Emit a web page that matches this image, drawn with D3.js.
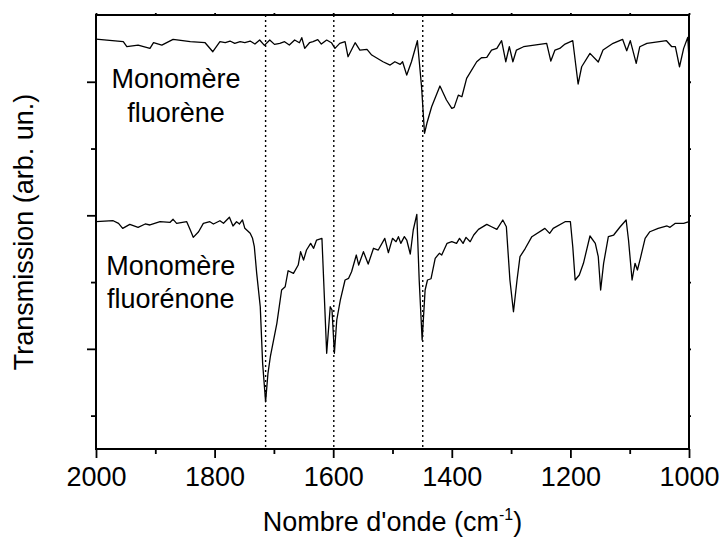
<!DOCTYPE html>
<html>
<head>
<meta charset="utf-8">
<script src="https://cdn.jsdelivr.net/npm/d3@7"></script>
<style>
  html, body { margin: 0; padding: 0; background: #fff; }
  svg { display: block; }
  text { font-family: "Liberation Sans", Arial, sans-serif; fill: #000; }
</style>
</head>
<body>
<svg id="chart" width="721" height="539"></svg>
<script>
// ---------- data ----------
const xTickValues = [2000, 1800, 1600, 1400, 1200, 1000];
const xMinorTicks = [1900, 1700, 1500, 1300, 1100];
const yMajorTicks = [1, 3, 5];
const yMinorTicks = [0, 2, 4];
const markerLines = [1714, 1599, 1449];

// Monomère fluorène spectrum [wavenumber, transmission (arb.)]
const fluoreneWn = [2000,1954,1948,1929,1909,1903,1889,1870,1841,1816,1803,1791,1782,1774,1766,1757,1749,1740,1732,1724,1716,1707,1699,1690,1682,1674,1665,1657,1653,1648,1640,1634,1626,1620,1611,1603,1597,1589,1580,1575,1563,1555,1543,1535,1516,1504,1496,1487,1483,1476,1468,1458,1451,1446,1442,1434,1420,1409,1400,1396,1389,1383,1375,1358,1350,1341,1333,1324,1316,1309,1303,1297,1291,1279,1240,1233,1226,1218,1209,1196,1187,1181,1167,1153,1145,1128,1112,1105,1099,1089,1083,1071,1038,1029,1023,1016,1009,1002,1000];
const fluoreneT  = [5.64,5.60,5.525,5.55,5.50,5.585,5.55,5.636,5.60,5.585,5.45,5.60,5.585,5.61,5.575,5.60,5.585,5.61,5.565,5.625,5.545,5.625,5.56,5.576,5.60,5.55,5.625,5.585,5.66,5.50,5.585,5.60,5.63,5.565,5.625,5.585,5.50,5.575,5.60,5.375,5.585,5.475,5.486,5.40,5.30,5.25,5.30,5.26,5.30,5.10,5.30,5.615,4.926,4.228,4.378,4.626,4.936,4.727,4.602,4.617,4.80,4.776,5.05,5.30,5.36,5.366,5.475,5.50,5.615,5.30,5.525,5.30,5.475,5.525,5.576,5.31,5.475,5.50,5.565,5.615,4.966,5.225,5.426,5.296,5.475,5.576,5.636,5.465,5.615,5.276,5.525,5.576,5.615,5.525,5.525,5.225,5.50,5.666,5.326];

// Monomère fluorénone spectrum [wavenumber, transmission (arb.)]
const fluorenoneWn = [2000,1971,1962,1955,1943,1929,1917,1909,1892,1875,1870,1864,1847,1841,1836,1827,1819,1808,1802,1791,1785,1775,1769,1763,1758,1753,1749,1740,1736,1733,1729,1723,1719,1714,1710,1706,1695,1687,1681,1676,1667,1659,1655,1650,1645,1638,1633,1628,1619,1614,1611,1605,1602,1598,1594,1588,1580,1574,1569,1561,1557,1549,1541,1532,1524,1513,1507,1500,1494,1490,1486,1480,1476,1470,1465,1459,1455,1450,1445,1441,1435,1428,1421,1417,1408,1400,1392,1387,1381,1376,1369,1363,1355,1341,1333,1324,1314,1308,1302,1296,1290,1285,1276,1265,1243,1235,1229,1209,1200,1196,1192,1185,1178,1167,1158,1153,1149,1144,1136,1127,1116,1106,1102,1096,1091,1087,1082,1074,1066,1052,1037,1032,1023,1009,1000];
const fluorenoneT  = [2.904,2.919,2.880,2.805,2.865,2.820,2.870,2.855,2.904,2.895,2.940,2.880,2.904,2.780,2.670,2.754,2.880,2.904,2.870,2.919,2.880,2.970,2.840,2.904,2.870,2.930,2.805,2.730,2.655,2.530,2.131,1.631,0.783,0.208,0.634,0.882,1.382,1.881,1.930,2.170,2.131,2.255,2.455,2.330,2.480,2.580,2.506,2.630,2.655,1.582,0.933,1.631,1.582,0.933,1.432,1.731,2.031,2.056,2.155,2.405,2.255,2.455,2.270,2.506,2.480,2.655,2.440,2.655,2.605,2.680,2.580,2.680,2.630,2.420,2.780,3.015,2.031,1.132,1.881,2.031,2.050,2.356,2.431,2.405,2.580,2.605,2.580,2.655,2.580,2.670,2.605,2.705,2.790,2.865,2.829,2.790,2.930,2.829,2.031,1.556,2.031,2.380,2.506,2.680,2.805,2.730,2.805,2.904,2.904,2.530,2.031,2.106,2.281,2.690,2.580,2.380,1.881,2.281,2.680,2.705,2.829,2.930,2.630,2.031,2.281,2.181,2.356,2.655,2.754,2.805,2.840,2.820,2.880,2.880,2.904];

const seriesLabels = [
  { lines: ["Monomère", "fluorène"], wn: 1865, t: 4.90 },
  { lines: ["Monomère", "fluorénone"], wn: 1874, t: 2.106 }
];
const xTitle = "Nombre d'onde (cm";
const yTitle = "Transmission (arb. un.)";

// ---------- layout ----------
const svg = d3.select("#chart");
const mLeft = 96, mRight = 689, mTop = 15, mBottom = 449;
const FS = 27;

const x = d3.scaleLinear().domain([2000, 1000]).range([mLeft, mRight]);
const y = d3.scaleLinear().domain([-0.5, 6]).range([mBottom, mTop]);

// curves
const line = d3.line().x(d => x(d[0])).y(d => y(d[1]));
const fluorene = fluoreneWn.map((w, i) => [w, fluoreneT[i]]);
const fluorenone = fluorenoneWn.map((w, i) => [w, fluorenoneT[i]]);

// dotted marker lines
svg.append("g").selectAll("line").data(markerLines).join("line")
  .attr("x1", d => x(d)).attr("x2", d => x(d))
  .attr("y1", mTop).attr("y2", mBottom)
  .attr("stroke", "#000").attr("stroke-width", 1.4)
  .attr("stroke-dasharray", "2,3");

[fluorene, fluorenone].forEach(s => {
  svg.append("path").datum(s)
    .attr("d", line)
    .attr("fill", "none")
    .attr("stroke", "#000")
    .attr("stroke-width", 1.3)
    .attr("stroke-linejoin", "round");
});

// axes
function styleAxis(g) {
  g.select(".domain").remove();
  g.selectAll("line").attr("stroke", "#000").attr("stroke-width", 1.8);
}
// bottom major
svg.append("g").attr("transform", `translate(0,${mBottom})`)
  .call(d3.axisBottom(x).tickValues(xTickValues).tickSize(9).tickFormat(d3.format("d")))
  .call(styleAxis)
  .call(g => g.selectAll("text").attr("dy", null).attr("y", 37)
      .style("font-size", FS + "px").style("font-family", "Liberation Sans, Arial, sans-serif"));
// bottom minor
svg.append("g").attr("transform", `translate(0,${mBottom})`)
  .call(d3.axisBottom(x).tickValues(xMinorTicks).tickSize(5).tickFormat(""))
  .call(styleAxis);
// top ticks (tiny, outward)
svg.append("g").attr("transform", `translate(0,${mTop})`)
  .call(d3.axisTop(x).tickValues(xTickValues.concat(xMinorTicks)).tickSize(2).tickFormat(""))
  .call(styleAxis);
// left major/minor
svg.append("g").attr("transform", `translate(${mLeft},0)`)
  .call(d3.axisLeft(y).tickValues(yMajorTicks).tickSize(9).tickFormat(""))
  .call(styleAxis);
svg.append("g").attr("transform", `translate(${mLeft},0)`)
  .call(d3.axisLeft(y).tickValues(yMinorTicks).tickSize(5).tickFormat(""))
  .call(styleAxis);
// right tiny ticks
svg.append("g").attr("transform", `translate(${mRight},0)`)
  .call(d3.axisRight(y).tickValues(yMajorTicks.concat(yMinorTicks)).tickSize(2).tickFormat(""))
  .call(styleAxis);

// frame
svg.append("rect")
  .attr("x", mLeft).attr("y", mTop)
  .attr("width", mRight - mLeft).attr("height", mBottom - mTop)
  .attr("fill", "none").attr("stroke", "#000").attr("stroke-width", 2);

// series labels
seriesLabels.forEach(l => {
  const t = svg.append("text")
    .attr("text-anchor", "middle")
    .style("font-size", FS + "px");
  l.lines.forEach((s, i) => {
    t.append("tspan").attr("x", x(l.wn)).attr("y", y(l.t) + i * 33.4).text(s);
  });
});

// x title with superscript
const xt = svg.append("text")
  .attr("x", (mLeft + mRight) / 2).attr("y", 531)
  .attr("text-anchor", "middle")
  .style("font-size", FS + "px");
xt.append("tspan").text(xTitle);
xt.append("tspan").attr("dy", -11).style("font-size", "16px").text("-1");
xt.append("tspan").attr("dy", 11).text(")");

// y title
svg.append("text")
  .attr("transform", `translate(33,${(mTop + mBottom) / 2}) rotate(-90)`)
  .attr("text-anchor", "middle")
  .style("font-size", FS + "px")
  .text(yTitle);
</script>
</body>
</html>
